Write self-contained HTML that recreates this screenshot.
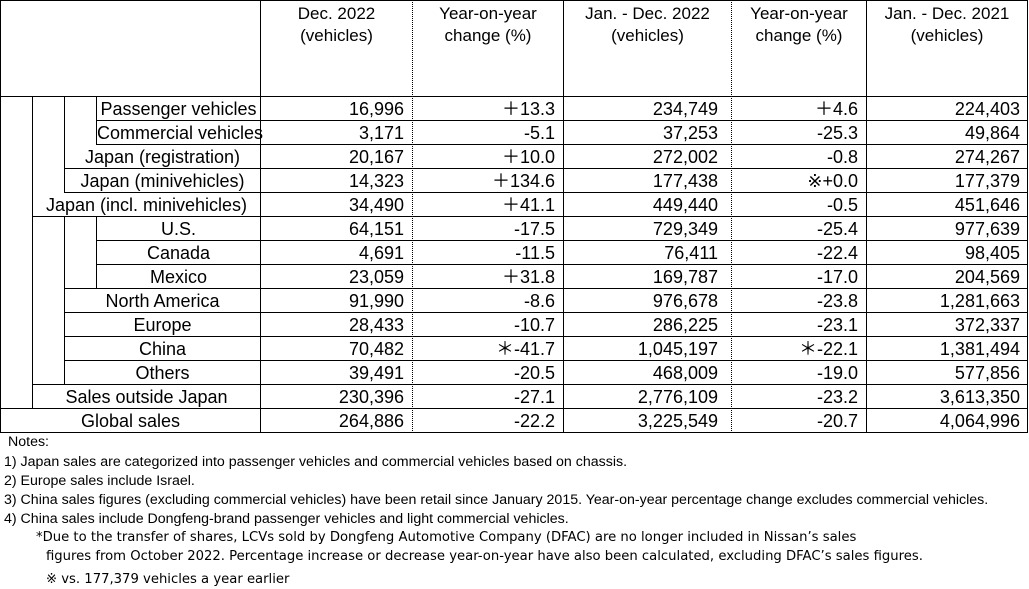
<!DOCTYPE html>
<html><head><meta charset="utf-8"><style>
body{margin:0;width:1029px;height:589px;background:#fff;position:relative;overflow:hidden;font-family:"Liberation Sans",Arial,sans-serif;color:#000}
.h{position:absolute;height:0;border-top:1px solid #000}
.v{position:absolute;width:0;border-left:1px solid #000}
.d{position:absolute;width:0;border-left:1px dotted #000}
.t{position:absolute;font-size:18px;line-height:25px;height:24px;white-space:nowrap}
.c{text-align:center}.r{text-align:right}
.hd{position:absolute;top:3px;font-size:17px;line-height:22px;text-align:center}
.n{position:absolute;font-size:14.2px;line-height:16px;white-space:nowrap}
.m{font-family:"DejaVu Sans",Verdana,"Noto Sans CJK JP",sans-serif;font-size:13.2px}
</style></head><body>
<div class="h" style="left:0;top:0;width:1027px"></div>
<div class="h" style="left:0;top:432px;width:1027px"></div>
<div class="v" style="left:0;top:0;height:433px"></div>
<div class="v" style="left:1027px;top:0;height:433px"></div>
<div class="h" style="left:0;top:96px;width:1027px"></div>
<div class="v" style="left:260px;top:0;height:433px"></div>
<div class="v" style="left:563px;top:0;height:433px"></div>
<div class="v" style="left:866px;top:0;height:433px"></div>
<div class="d" style="left:412px;top:0;height:433px"></div>
<div class="d" style="left:731px;top:0;height:433px"></div>
<div class="v" style="left:32px;top:96px;height:313px"></div>
<div class="v" style="left:64px;top:96px;height:97px"></div>
<div class="v" style="left:64px;top:216px;height:169px"></div>
<div class="v" style="left:96px;top:96px;height:49px"></div>
<div class="v" style="left:96px;top:216px;height:73px"></div>
<div class="h" style="left:96px;top:120px;width:931px"></div>
<div class="h" style="left:96px;top:144px;width:931px"></div>
<div class="h" style="left:64px;top:168px;width:963px"></div>
<div class="h" style="left:64px;top:192px;width:963px"></div>
<div class="h" style="left:32px;top:216px;width:995px"></div>
<div class="h" style="left:96px;top:240px;width:931px"></div>
<div class="h" style="left:96px;top:264px;width:931px"></div>
<div class="h" style="left:64px;top:288px;width:963px"></div>
<div class="h" style="left:64px;top:312px;width:963px"></div>
<div class="h" style="left:64px;top:336px;width:963px"></div>
<div class="h" style="left:64px;top:360px;width:963px"></div>
<div class="h" style="left:32px;top:384px;width:995px"></div>
<div class="h" style="left:0px;top:408px;width:1027px"></div>
<div class="hd" style="left:261px;width:151px">Dec. 2022<br>(vehicles)</div>
<div class="hd" style="left:413px;width:150px">Year-on-year<br>change (%)</div>
<div class="hd" style="left:564px;width:167px">Jan. - Dec. 2022<br>(vehicles)</div>
<div class="hd" style="left:732px;width:134px">Year-on-year<br>change (%)</div>
<div class="hd" style="left:867px;width:160px">Jan. - Dec. 2021<br>(vehicles)</div>
<div class="t c" style="left:97px;width:163px;top:97px">Passenger vehicles</div>
<div class="t c" style="left:97px;width:163px;top:121px">Commercial vehicles</div>
<div class="t c" style="left:65px;width:195px;top:145px">Japan (registration)</div>
<div class="t c" style="left:65px;width:195px;top:169px">Japan (minivehicles)</div>
<div class="t c" style="left:33px;width:227px;top:193px">Japan (incl. minivehicles)</div>
<div class="t c" style="left:97px;width:163px;top:217px">U.S.</div>
<div class="t c" style="left:97px;width:163px;top:241px">Canada</div>
<div class="t c" style="left:97px;width:163px;top:265px">Mexico</div>
<div class="t c" style="left:65px;width:195px;top:289px">North America</div>
<div class="t c" style="left:65px;width:195px;top:313px">Europe</div>
<div class="t c" style="left:65px;width:195px;top:337px">China</div>
<div class="t c" style="left:65px;width:195px;top:361px">Others</div>
<div class="t c" style="left:33px;width:227px;top:385px">Sales outside Japan</div>
<div class="t c" style="left:1px;width:259px;top:409px">Global sales</div>
<div class="t r" style="left:261px;width:143px;top:97px">16,996</div><div class="t r" style="left:413px;width:142px;top:97px">＋13.3</div><div class="t r" style="left:564px;width:154px;top:97px">234,749</div><div class="t r" style="left:732px;width:126px;top:97px">＋4.6</div><div class="t r" style="left:867px;width:153px;top:97px">224,403</div>
<div class="t r" style="left:261px;width:143px;top:121px">3,171</div><div class="t r" style="left:413px;width:142px;top:121px">-5.1</div><div class="t r" style="left:564px;width:154px;top:121px">37,253</div><div class="t r" style="left:732px;width:126px;top:121px">-25.3</div><div class="t r" style="left:867px;width:153px;top:121px">49,864</div>
<div class="t r" style="left:261px;width:143px;top:145px">20,167</div><div class="t r" style="left:413px;width:142px;top:145px">＋10.0</div><div class="t r" style="left:564px;width:154px;top:145px">272,002</div><div class="t r" style="left:732px;width:126px;top:145px">-0.8</div><div class="t r" style="left:867px;width:153px;top:145px">274,267</div>
<div class="t r" style="left:261px;width:143px;top:169px">14,323</div><div class="t r" style="left:413px;width:142px;top:169px">＋134.6</div><div class="t r" style="left:564px;width:154px;top:169px">177,438</div><div class="t r" style="left:732px;width:126px;top:169px">※+0.0</div><div class="t r" style="left:867px;width:153px;top:169px">177,379</div>
<div class="t r" style="left:261px;width:143px;top:193px">34,490</div><div class="t r" style="left:413px;width:142px;top:193px">＋41.1</div><div class="t r" style="left:564px;width:154px;top:193px">449,440</div><div class="t r" style="left:732px;width:126px;top:193px">-0.5</div><div class="t r" style="left:867px;width:153px;top:193px">451,646</div>
<div class="t r" style="left:261px;width:143px;top:217px">64,151</div><div class="t r" style="left:413px;width:142px;top:217px">-17.5</div><div class="t r" style="left:564px;width:154px;top:217px">729,349</div><div class="t r" style="left:732px;width:126px;top:217px">-25.4</div><div class="t r" style="left:867px;width:153px;top:217px">977,639</div>
<div class="t r" style="left:261px;width:143px;top:241px">4,691</div><div class="t r" style="left:413px;width:142px;top:241px">-11.5</div><div class="t r" style="left:564px;width:154px;top:241px">76,411</div><div class="t r" style="left:732px;width:126px;top:241px">-22.4</div><div class="t r" style="left:867px;width:153px;top:241px">98,405</div>
<div class="t r" style="left:261px;width:143px;top:265px">23,059</div><div class="t r" style="left:413px;width:142px;top:265px">＋31.8</div><div class="t r" style="left:564px;width:154px;top:265px">169,787</div><div class="t r" style="left:732px;width:126px;top:265px">-17.0</div><div class="t r" style="left:867px;width:153px;top:265px">204,569</div>
<div class="t r" style="left:261px;width:143px;top:289px">91,990</div><div class="t r" style="left:413px;width:142px;top:289px">-8.6</div><div class="t r" style="left:564px;width:154px;top:289px">976,678</div><div class="t r" style="left:732px;width:126px;top:289px">-23.8</div><div class="t r" style="left:867px;width:153px;top:289px">1,281,663</div>
<div class="t r" style="left:261px;width:143px;top:313px">28,433</div><div class="t r" style="left:413px;width:142px;top:313px">-10.7</div><div class="t r" style="left:564px;width:154px;top:313px">286,225</div><div class="t r" style="left:732px;width:126px;top:313px">-23.1</div><div class="t r" style="left:867px;width:153px;top:313px">372,337</div>
<div class="t r" style="left:261px;width:143px;top:337px">70,482</div><div class="t r" style="left:413px;width:142px;top:337px">＊-41.7</div><div class="t r" style="left:564px;width:154px;top:337px">1,045,197</div><div class="t r" style="left:732px;width:126px;top:337px">＊-22.1</div><div class="t r" style="left:867px;width:153px;top:337px">1,381,494</div>
<div class="t r" style="left:261px;width:143px;top:361px">39,491</div><div class="t r" style="left:413px;width:142px;top:361px">-20.5</div><div class="t r" style="left:564px;width:154px;top:361px">468,009</div><div class="t r" style="left:732px;width:126px;top:361px">-19.0</div><div class="t r" style="left:867px;width:153px;top:361px">577,856</div>
<div class="t r" style="left:261px;width:143px;top:385px">230,396</div><div class="t r" style="left:413px;width:142px;top:385px">-27.1</div><div class="t r" style="left:564px;width:154px;top:385px">2,776,109</div><div class="t r" style="left:732px;width:126px;top:385px">-23.2</div><div class="t r" style="left:867px;width:153px;top:385px">3,613,350</div>
<div class="t r" style="left:261px;width:143px;top:409px">264,886</div><div class="t r" style="left:413px;width:142px;top:409px">-22.2</div><div class="t r" style="left:564px;width:154px;top:409px">3,225,549</div><div class="t r" style="left:732px;width:126px;top:409px">-20.7</div><div class="t r" style="left:867px;width:153px;top:409px">4,064,996</div>
<div class="n" style="left:8px;top:434px">Notes:</div>
<div class="n" style="left:4px;top:454px">1) Japan sales are categorized into passenger vehicles and commercial vehicles based on chassis.</div>
<div class="n" style="left:4px;top:473px">2) Europe sales include Israel.</div>
<div class="n" style="left:4px;top:492px">3) China sales figures (excluding commercial vehicles) have been retail since January 2015. Year-on-year percentage change excludes commercial vehicles.</div>
<div class="n" style="left:4px;top:511px">4) China sales include Dongfeng-brand passenger vehicles and light commercial vehicles.</div>
<div class="n m" style="left:36px;top:530px">*Due to the transfer of shares, LCVs sold by Dongfeng Automotive Company (DFAC) are no longer included in Nissan’s sales</div>
<div class="n m" style="left:46px;top:549px">figures from October 2022. Percentage increase or decrease year-on-year have also been calculated, excluding DFAC’s sales figures.</div>
<div class="n m" style="left:46px;top:572px">※ vs. 177,379 vehicles a year earlier</div>
</body></html>
